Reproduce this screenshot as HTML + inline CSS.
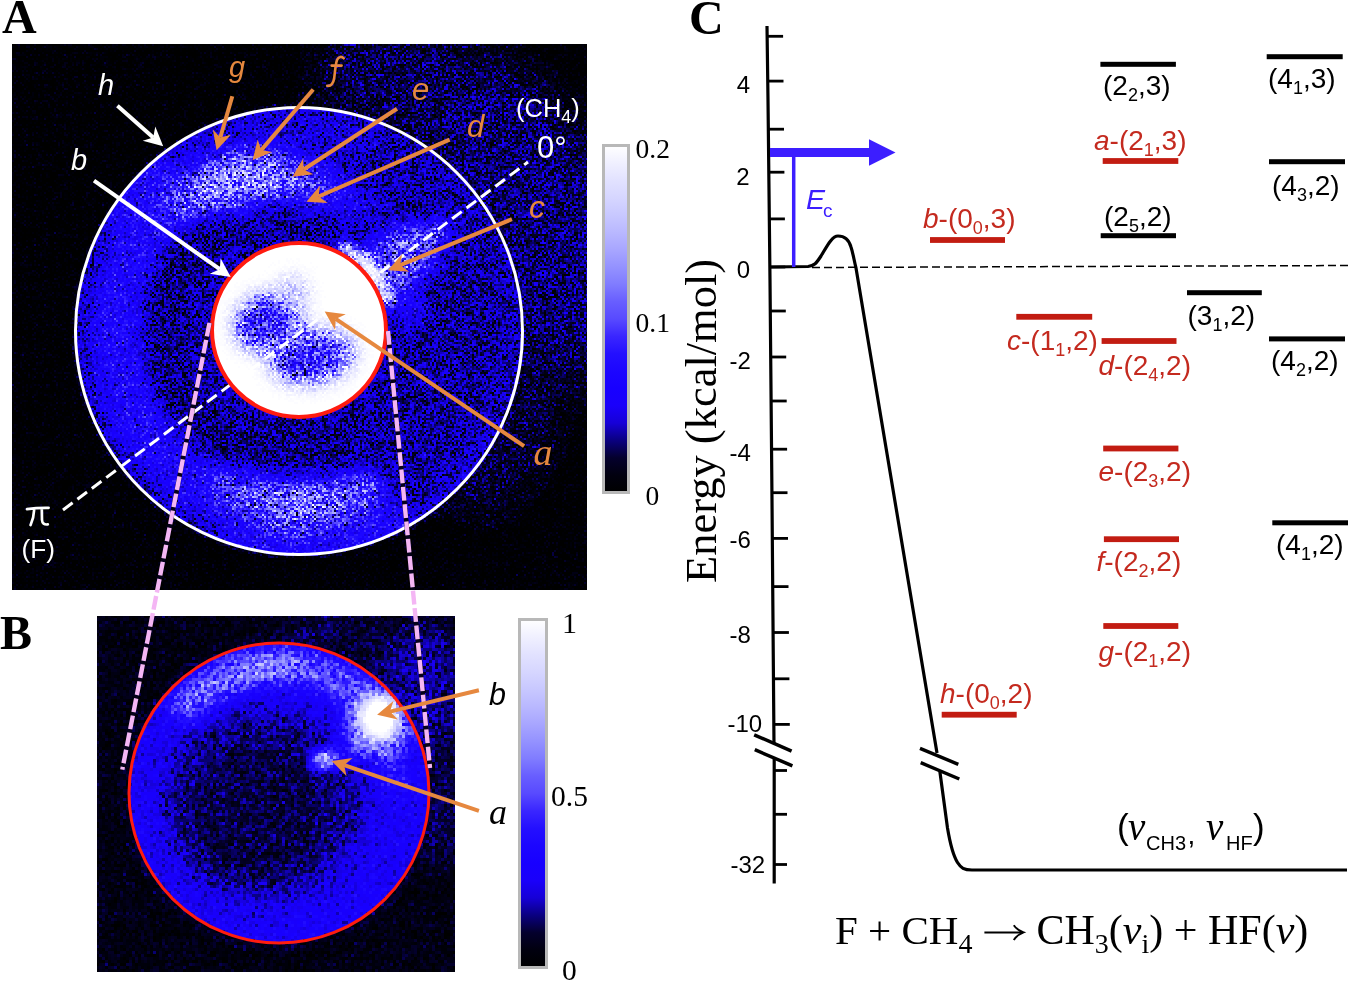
<!DOCTYPE html><html><head><meta charset="utf-8"><style>html,body{margin:0;padding:0;background:#fff;}svg{display:block;}</style></head><body><svg width="1350" height="981" viewBox="0 0 1350 981"><defs>
<clipPath id="clipA"><rect x="12" y="44" width="575" height="546"/></clipPath>
<clipPath id="diskA"><circle cx="299" cy="331" r="224"/></clipPath>
<clipPath id="redA"><circle cx="299" cy="330" r="87"/></clipPath>
<clipPath id="clipAB"><rect x="12" y="44" width="575" height="546"/><rect x="97" y="616" width="358" height="356"/></clipPath>
<clipPath id="clipB"><rect x="97" y="616" width="358" height="356"/></clipPath>
<clipPath id="diskB"><circle cx="279" cy="793" r="150"/></clipPath>
<filter id="b4" x="-50%" y="-50%" width="200%" height="200%"><feGaussianBlur stdDeviation="4"/></filter>
<filter id="b8" x="-50%" y="-50%" width="200%" height="200%"><feGaussianBlur stdDeviation="8"/></filter>
<filter id="b14" x="-50%" y="-50%" width="200%" height="200%"><feGaussianBlur stdDeviation="14"/></filter>
<filter id="b20" x="-50%" y="-50%" width="200%" height="200%"><feGaussianBlur stdDeviation="20"/></filter>
<linearGradient id="cbar" x1="0" y1="0" x2="0" y2="1"><stop offset="0.00" stop-color="rgb(255, 255, 255)"/><stop offset="0.05" stop-color="rgb(240, 240, 255)"/><stop offset="0.10" stop-color="rgb(226, 226, 255)"/><stop offset="0.15" stop-color="rgb(214, 214, 255)"/><stop offset="0.20" stop-color="rgb(200, 200, 255)"/><stop offset="0.25" stop-color="rgb(185, 184, 255)"/><stop offset="0.30" stop-color="rgb(168, 166, 255)"/><stop offset="0.35" stop-color="rgb(148, 146, 255)"/><stop offset="0.40" stop-color="rgb(128, 124, 255)"/><stop offset="0.45" stop-color="rgb(104, 94, 255)"/><stop offset="0.50" stop-color="rgb(88, 74, 255)"/><stop offset="0.55" stop-color="rgb(58, 38, 255)"/><stop offset="0.60" stop-color="rgb(36, 16, 255)"/><stop offset="0.65" stop-color="rgb(28, 6, 255)"/><stop offset="0.70" stop-color="rgb(24, 0, 255)"/><stop offset="0.75" stop-color="rgb(26, 0, 250)"/><stop offset="0.80" stop-color="rgb(22, 0, 215)"/><stop offset="0.85" stop-color="rgb(10, 0, 128)"/><stop offset="0.90" stop-color="rgb(4, 0, 45)"/><stop offset="0.95" stop-color="rgb(1, 0, 15)"/><stop offset="1.00" stop-color="rgb(0, 0, 0)"/></linearGradient>
</defs><rect width="1350" height="981" fill="#ffffff"/><filter id="cmA" x="12" y="44" width="575" height="546" filterUnits="userSpaceOnUse" color-interpolation-filters="sRGB"><feTurbulence type="fractalNoise" baseFrequency="0.9" numOctaves="1" seed="7" result="n"/><feColorMatrix in="n" type="matrix" values="1 0 0 0 0 1 0 0 0 0 1 0 0 0 0 0 0 0 0 1" result="ng"/><feComponentTransfer in="SourceGraphic" result="J"><feFuncR type="table" tableValues="0.200 0.270 0.330 0.400 0.430 0.400 0.360 0.450 0.700 0.850 0.950 1.000 1.000 1.000 0.950 0.850 0.700 0.500 0.300 0.150 0.000"/><feFuncG type="table" tableValues="0.200 0.270 0.330 0.400 0.430 0.400 0.360 0.450 0.700 0.850 0.950 1.000 1.000 1.000 0.950 0.850 0.700 0.500 0.300 0.150 0.000"/><feFuncB type="table" tableValues="0.200 0.270 0.330 0.400 0.430 0.400 0.360 0.450 0.700 0.850 0.950 1.000 1.000 1.000 0.950 0.850 0.700 0.500 0.300 0.150 0.000"/></feComponentTransfer><feComposite in="J" in2="ng" operator="arithmetic" k1="1" k2="-0.5" k3="0" k4="0.5" result="T"/><feComposite in="SourceGraphic" in2="T" operator="arithmetic" k1="0" k2="1" k3="2.0" k4="-1.0" result="s"/><feComponentTransfer in="s" result="c"><feFuncR type="table" tableValues="0.000 0.004 0.016 0.039 0.086 0.102 0.094 0.110 0.141 0.227 0.345 0.408 0.502 0.580 0.659 0.725 0.784 0.839 0.886 0.941 1.000"/><feFuncG type="table" tableValues="0.000 0.000 0.000 0.000 0.000 0.000 0.000 0.024 0.063 0.149 0.290 0.369 0.486 0.573 0.651 0.722 0.784 0.839 0.886 0.941 1.000"/><feFuncB type="table" tableValues="0.000 0.059 0.176 0.502 0.843 0.980 1.000 1.000 1.000 1.000 1.000 1.000 1.000 1.000 1.000 1.000 1.000 1.000 1.000 1.000 1.000"/><feFuncA type="linear" slope="0" intercept="1"/></feComponentTransfer><feFlood x="12" y="44" width="1" height="1" flood-color="#fff" result="dot"/><feComposite in="dot" in2="dot" operator="over" x="12" y="44" width="2" height="2" result="cell"/><feTile in="cell" result="grid"/><feComposite in="c" in2="grid" operator="in" result="samp"/><feConvolveMatrix in="samp" order="2" kernelMatrix="1 1 1 1" divisor="1" targetX="1" targetY="1" edgeMode="none"/></filter><g clip-path="url(#clipA)"><g filter="url(#cmA)"><rect x="12" y="44" width="575" height="546" fill="rgb(0,0,0)"/><g filter="url(#b20)"><circle cx="299" cy="331" r="228" fill="rgb(17,17,17)"/><ellipse cx="530.0" cy="235.0" rx="90" ry="160" transform="rotate(-15 530.0 235.0)" fill="rgb(36,36,36)"/><ellipse cx="440.0" cy="90.0" rx="130" ry="55" transform="rotate(15 440.0 90.0)" fill="rgb(28,28,28)"/><ellipse cx="500.0" cy="145.0" rx="70" ry="60" transform="rotate(0 500.0 145.0)" fill="rgb(34,34,34)"/><ellipse cx="516.5" cy="432.4" rx="100" ry="40" transform="rotate(115 516.5 432.4)" fill="rgb(20,20,20)"/></g><g clip-path="url(#diskA)"><g filter="url(#b8)"><circle cx="299" cy="331" r="230" fill="rgb(46,46,46)"/><path d="M151.2,141.9 A240,240 0 0 0 419.0,538.8 L379.0,469.6 A160,160 0 0 1 200.5,204.9 Z" fill="rgb(82,82,82)"/><path d="M278.1,91.9 A240,240 0 0 0 151.2,141.9 L191.3,193.1 A175,175 0 0 1 283.7,156.7 Z" fill="rgb(59,59,59)"/><path d="M91.2,211.0 A240,240 0 0 0 216.9,556.5 L228.2,525.5 A207,207 0 0 1 119.7,227.5 Z" fill="rgb(48,48,48)"/><path d="M419.0,538.8 A240,240 0 0 0 516.5,432.4 L466.7,409.2 A185,185 0 0 1 391.5,491.2 Z" fill="rgb(56,56,56)"/><path d="M381.1,105.5 A240,240 0 0 0 278.1,91.9 L282.9,146.7 A185,185 0 0 1 362.3,157.2 Z" fill="rgb(59,59,59)"/><path d="M220.0,194.2 A158,158 0 0 0 220.0,467.8 L241.5,430.6 A115,115 0 0 1 241.5,231.4 Z" fill="rgb(40,40,40)"/><path d="M373.6,224.5 A130,130 0 0 0 234.0,218.4 L253.0,251.3 A92,92 0 0 1 351.8,255.6 Z" fill="rgb(41,41,41)"/><path d="M228.0,454.0 A142,142 0 0 0 380.4,447.3 L353.5,408.8 A95,95 0 0 1 251.5,413.3 Z" fill="rgb(38,38,38)"/><path d="M241.5,231.4 A115,115 0 0 0 241.5,430.6 L255.0,407.2 A88,88 0 0 1 255.0,254.8 Z" fill="rgb(46,46,46)"/><path d="M383.5,512.3 A200,200 0 0 0 492.2,279.2 L390.8,306.4 A95,95 0 0 1 339.1,417.1 Z" fill="rgb(42,42,42)"/></g><g filter="url(#b14)"><ellipse cx="187.2" cy="197.7" rx="28" ry="20" transform="rotate(-40 187.2 197.7)" fill="rgb(128,128,128)"/><ellipse cx="228.8" cy="180.6" rx="34" ry="24" transform="rotate(-25 228.8 180.6)" fill="rgb(184,184,184)"/><ellipse cx="271.6" cy="175.4" rx="30" ry="22" transform="rotate(-10 271.6 175.4)" fill="rgb(168,168,168)"/><ellipse cx="311.9" cy="183.6" rx="26" ry="18" transform="rotate(5 311.9 183.6)" fill="rgb(128,128,128)"/><ellipse cx="346.2" cy="201.3" rx="24" ry="15" transform="rotate(20 346.2 201.3)" fill="rgb(97,97,97)"/><ellipse cx="299.0" cy="503.0" rx="52" ry="18" transform="rotate(-180 299.0 503.0)" fill="rgb(173,173,173)"/><ellipse cx="246.5" cy="492.7" rx="36" ry="16" transform="rotate(-162 246.5 492.7)" fill="rgb(133,133,133)"/><ellipse cx="351.5" cy="492.7" rx="36" ry="16" transform="rotate(-198 351.5 492.7)" fill="rgb(140,140,140)"/></g><g filter="url(#b8)"><ellipse cx="398.0" cy="258.0" rx="44" ry="30" transform="rotate(-35 398.0 258.0)" fill="rgb(117,117,117)"/><ellipse cx="432.0" cy="236.0" rx="20" ry="12" transform="rotate(-35 432.0 236.0)" fill="rgb(128,128,128)"/><ellipse cx="408.0" cy="305.0" rx="16" ry="22" transform="rotate(0 408.0 305.0)" fill="rgb(82,82,82)"/></g><g filter="url(#b4)"><ellipse cx="368.1" cy="267.8" rx="30" ry="8" transform="rotate(48 368.1 267.8)" fill="rgb(255,255,255)"/><ellipse cx="384.0" cy="292.2" rx="16" ry="7" transform="rotate(66 384.0 292.2)" fill="rgb(217,217,217)"/><ellipse cx="348.8" cy="250.3" rx="14" ry="7" transform="rotate(32 348.8 250.3)" fill="rgb(204,204,204)"/></g></g><circle cx="299" cy="330" r="87" fill="rgb(255,255,255)"/><g clip-path="url(#redA)"><g filter="url(#b8)"><ellipse cx="268.0" cy="322.0" rx="36" ry="30" transform="rotate(-20 268.0 322.0)" fill="rgb(158,158,158)"/><ellipse cx="311.0" cy="356.0" rx="44" ry="28" transform="rotate(-8 311.0 356.0)" fill="rgb(158,158,158)"/><ellipse cx="292.0" cy="296.0" rx="16" ry="20" transform="rotate(0 292.0 296.0)" fill="rgb(209,209,209)"/></g><g filter="url(#b4)"><ellipse cx="266.0" cy="322.0" rx="24" ry="19" transform="rotate(-20 266.0 322.0)" fill="rgb(107,107,107)"/><ellipse cx="308.0" cy="358.0" rx="30" ry="17" transform="rotate(-8 308.0 358.0)" fill="rgb(107,107,107)"/></g></g></g></g><filter id="cmB" x="97" y="616" width="358" height="356" filterUnits="userSpaceOnUse" color-interpolation-filters="sRGB"><feTurbulence type="fractalNoise" baseFrequency="0.9" numOctaves="1" seed="11" result="n"/><feColorMatrix in="n" type="matrix" values="1 0 0 0 0 1 0 0 0 0 1 0 0 0 0 0 0 0 0 1" result="ng"/><feComponentTransfer in="SourceGraphic" result="J"><feFuncR type="table" tableValues="0.200 0.270 0.330 0.400 0.430 0.420 0.420 0.470 0.550 0.650 0.750 0.830 0.900 0.900 0.900 0.750 0.600 0.450 0.300 0.150 0.000"/><feFuncG type="table" tableValues="0.200 0.270 0.330 0.400 0.430 0.420 0.420 0.470 0.550 0.650 0.750 0.830 0.900 0.900 0.900 0.750 0.600 0.450 0.300 0.150 0.000"/><feFuncB type="table" tableValues="0.200 0.270 0.330 0.400 0.430 0.420 0.420 0.470 0.550 0.650 0.750 0.830 0.900 0.900 0.900 0.750 0.600 0.450 0.300 0.150 0.000"/></feComponentTransfer><feComposite in="J" in2="ng" operator="arithmetic" k1="1" k2="-0.5" k3="0" k4="0.5" result="T"/><feComposite in="SourceGraphic" in2="T" operator="arithmetic" k1="0" k2="1" k3="1.1" k4="-0.55" result="s"/><feComponentTransfer in="s" result="c"><feFuncR type="table" tableValues="0.000 0.004 0.016 0.039 0.086 0.102 0.094 0.110 0.141 0.227 0.345 0.408 0.502 0.580 0.659 0.725 0.784 0.839 0.886 0.941 1.000"/><feFuncG type="table" tableValues="0.000 0.000 0.000 0.000 0.000 0.000 0.000 0.024 0.063 0.149 0.290 0.369 0.486 0.573 0.651 0.722 0.784 0.839 0.886 0.941 1.000"/><feFuncB type="table" tableValues="0.000 0.059 0.176 0.502 0.843 0.980 1.000 1.000 1.000 1.000 1.000 1.000 1.000 1.000 1.000 1.000 1.000 1.000 1.000 1.000 1.000"/><feFuncA type="linear" slope="0" intercept="1"/></feComponentTransfer><feFlood x="97" y="616" width="1" height="1" flood-color="#fff" result="dot"/><feComposite in="dot" in2="dot" operator="over" x="97" y="616" width="3" height="3" result="cell"/><feTile in="cell" result="grid"/><feComposite in="c" in2="grid" operator="in" result="samp"/><feConvolveMatrix in="samp" order="3" kernelMatrix="1 1 1 1 1 1 1 1 1" divisor="1" targetX="1" targetY="1" edgeMode="none"/></filter><g clip-path="url(#clipB)"><g filter="url(#cmB)"><rect x="97" y="616" width="358" height="356" fill="rgb(13,13,13)"/><g filter="url(#b14)"><circle cx="279" cy="793" r="152" fill="rgb(20,20,20)"/><ellipse cx="420.0" cy="690.0" rx="45" ry="70" transform="rotate(0 420.0 690.0)" fill="rgb(41,41,41)"/><ellipse cx="440.0" cy="800.0" rx="25" ry="70" transform="rotate(0 440.0 800.0)" fill="rgb(28,28,28)"/><ellipse cx="330.0" cy="630.0" rx="60" ry="20" transform="rotate(0 330.0 630.0)" fill="rgb(26,26,26)"/></g><g clip-path="url(#diskB)"><circle cx="279" cy="793" r="150" fill="rgb(71,71,71)"/><g filter="url(#b14)"><ellipse cx="262.0" cy="805.0" rx="100" ry="94" transform="rotate(0 262.0 805.0)" fill="rgb(36,36,36)"/><ellipse cx="255.0" cy="810.0" rx="62" ry="62" transform="rotate(0 255.0 810.0)" fill="rgb(26,26,26)"/></g><g filter="url(#b8)"><path d="M391.7,705.0 A143,143 0 0 0 164.8,706.9 L191.2,726.8 A110,110 0 0 1 365.7,725.3 Z" fill="rgb(128,128,128)"/><ellipse cx="257.1" cy="668.9" rx="55" ry="15" transform="rotate(-10 257.1 668.9)" fill="rgb(158,158,158)"/><ellipse cx="206.7" cy="689.8" rx="30" ry="14" transform="rotate(-35 206.7 689.8)" fill="rgb(148,148,148)"/><ellipse cx="395.0" cy="768.0" rx="14" ry="34" transform="rotate(-10 395.0 768.0)" fill="rgb(97,97,97)"/><ellipse cx="348.0" cy="750.0" rx="24" ry="10" transform="rotate(-20 348.0 750.0)" fill="rgb(102,102,102)"/><ellipse cx="378.0" cy="722.0" rx="34" ry="36" transform="rotate(0 378.0 722.0)" fill="rgb(158,158,158)"/></g><g filter="url(#b4)"><ellipse cx="323.0" cy="760.0" rx="13" ry="10" transform="rotate(-20 323.0 760.0)" fill="rgb(173,173,173)"/><ellipse cx="379.0" cy="718.0" rx="20" ry="23" transform="rotate(0 379.0 718.0)" fill="rgb(255,255,255)"/></g><ellipse cx="380.0" cy="717.0" rx="14" ry="16" transform="rotate(0 380.0 717.0)" fill="rgb(255,255,255)"/></g></g></g><circle cx="299" cy="331" r="223.5" fill="none" stroke="#ffffff" stroke-width="3"/><line x1="63" y1="510" x2="528" y2="162" stroke="#ffffff" stroke-width="3" stroke-dasharray="12,6"/><circle cx="299" cy="330" r="87" fill="none" stroke="#ff1c10" stroke-width="4"/><circle cx="279" cy="793" r="150" fill="none" stroke="#ff1c10" stroke-width="3"/><g clip-path="url(#clipAB)"><line x1="209.5" y1="322.8" x2="122.3" y2="769.6" stroke="#06031a" stroke-width="4.6"/><line x1="388" y1="331" x2="430" y2="768" stroke="#06031a" stroke-width="4.6"/></g><line x1="209.5" y1="322.8" x2="122.3" y2="769.6" stroke="#f4b6f4" stroke-width="4.4" stroke-dasharray="13.8,3.6"/><line x1="388" y1="331" x2="430" y2="768" stroke="#f4b6f4" stroke-width="4.4" stroke-dasharray="13.8,3.6"/><line x1="117.4" y1="105.7" x2="153.2" y2="137.5" stroke="#ffffff" stroke-width="4"/><polygon points="163.2,146.3 142.7,140.8 153.2,137.5 155.3,126.6" fill="#ffffff"/><line x1="94.0" y1="180.7" x2="219.8" y2="269.2" stroke="#ffffff" stroke-width="4"/><polygon points="230.7,276.9 209.7,273.7 219.8,269.2 220.6,258.2" fill="#ffffff"/><line x1="232.3" y1="96.3" x2="220.3" y2="137.5" stroke="#e6883f" stroke-width="4"/><polygon points="216.6,150.3 212.8,129.4 220.3,137.5 231.0,134.7" fill="#e6883f"/><line x1="313.2" y1="89.5" x2="261.2" y2="150.1" stroke="#e6883f" stroke-width="4"/><polygon points="252.5,160.2 257.7,139.6 261.2,150.1 272.1,152.0" fill="#e6883f"/><line x1="397.0" y1="108.7" x2="303.6" y2="169.5" stroke="#e6883f" stroke-width="4"/><polygon points="292.4,176.7 303.2,158.4 303.6,169.5 313.5,174.3" fill="#e6883f"/><line x1="449.6" y1="139.6" x2="318.6" y2="196.5" stroke="#e6883f" stroke-width="4"/><polygon points="306.4,201.8 320.0,185.5 318.6,196.5 327.6,202.9" fill="#e6883f"/><line x1="511.9" y1="219.2" x2="400.3" y2="265.1" stroke="#e6883f" stroke-width="4"/><polygon points="388.0,270.2 402.0,254.2 400.3,265.1 409.2,271.8" fill="#e6883f"/><line x1="524.1" y1="446.1" x2="335.7" y2="318.9" stroke="#e6883f" stroke-width="4"/><polygon points="324.7,311.5 345.8,314.3 335.7,318.9 335.1,330.0" fill="#e6883f"/><text x="98" y="95" fill="#ffffff" font-size="29" font-family="Liberation Sans, sans-serif" font-style="italic">h</text><text x="71" y="170" fill="#ffffff" font-size="29" font-family="Liberation Sans, sans-serif" font-style="italic">b</text><text x="229" y="76.5" fill="#e6883f" font-size="29" font-family="Liberation Sans, sans-serif" font-style="italic">g</text><path d="M343.7,58.3 C342,56.2 338.5,56.2 337,60 C335.6,64 335,72 334.2,78 C333.5,83 331,86.6 327.2,85.8 M331.6,65.6 L341.6,65.6" fill="none" stroke="#e6883f" stroke-width="2.6" stroke-linecap="round"/><text x="412" y="100" fill="#e6883f" font-size="31" font-family="Liberation Sans, sans-serif" font-style="italic">e</text><text x="467" y="136.5" fill="#e6883f" font-size="31" font-family="Liberation Sans, sans-serif" font-style="italic">d</text><text x="529" y="218" fill="#e6883f" font-size="32" font-family="Liberation Sans, sans-serif" font-style="italic">c</text><text x="533.5" y="464.8" fill="#e6883f" font-size="38" font-family="Liberation Serif, serif" font-style="italic">a</text><text x="516" y="117" fill="#ffffff" font-size="25.5" font-family="Liberation Sans, sans-serif" >(CH<tspan font-size="18" dy="6">4</tspan><tspan dy="-6">)</tspan></text><text x="537" y="157.5" fill="#ffffff" font-size="31" font-family="Liberation Sans, sans-serif" >0°</text><path d="M27,509.2 Q37,507.6 48.6,507.8 M34.2,509.5 Q33.8,518 30.6,525 M41.8,509.5 L42,520 Q42.4,525.2 47.8,524.4" fill="none" stroke="#fff" stroke-width="2.7" stroke-linecap="round"/><text x="21.5" y="557.5" fill="#ffffff" font-size="26.3" font-family="Liberation Sans, sans-serif" >(F)</text><rect x="603.5" y="145.5" width="25" height="347" fill="url(#cbar)" stroke="#b8b8b8" stroke-width="3"/><text x="635.5" y="157.5" fill="#000" font-size="27.5" font-family="Liberation Serif, serif" >0.2</text><text x="635.5" y="331.5" fill="#000" font-size="27.5" font-family="Liberation Serif, serif" >0.1</text><text x="645.5" y="504.5" fill="#000" font-size="27.5" font-family="Liberation Serif, serif" >0</text><line x1="478.9" y1="690.3" x2="390.0" y2="711.6" stroke="#e6883f" stroke-width="4"/><polygon points="377.1,714.7 393.4,701.0 390.0,711.6 397.8,719.5" fill="#e6883f"/><line x1="478.9" y1="810.8" x2="344.2" y2="765.2" stroke="#e6883f" stroke-width="4"/><polygon points="331.6,760.9 352.6,758.0 344.2,765.2 346.5,776.0" fill="#e6883f"/><text x="489" y="704.5" fill="#000" font-size="30.5" font-family="Liberation Sans, sans-serif" font-style="italic">b</text><text x="489" y="824.2" fill="#000" font-size="36" font-family="Liberation Serif, serif" font-style="italic">a</text><rect x="519.5" y="619.5" width="27" height="348" fill="url(#cbar)" stroke="#b8b8b8" stroke-width="3"/><text x="562" y="632.8" fill="#000" font-size="30" font-family="Liberation Serif, serif" >1</text><text x="551" y="805.7" fill="#000" font-size="29.5" font-family="Liberation Serif, serif" >0.5</text><text x="562" y="979.6" fill="#000" font-size="29.5" font-family="Liberation Serif, serif" >0</text><text x="2" y="33" fill="#000" font-size="48" font-family="Liberation Serif, serif" font-weight="bold">A</text><text x="0" y="649" fill="#000" font-size="48" font-family="Liberation Serif, serif" font-weight="bold">B</text><text x="689" y="34" fill="#000" font-size="48" font-family="Liberation Serif, serif" font-weight="bold">C</text><polyline points="767,26 768,100 770,280 772,500 774,744" fill="none" stroke="#000" stroke-width="3.2"/><line x1="774.2" y1="758" x2="774.2" y2="883.5" stroke="#000" stroke-width="3.2"/><line x1="767.1" y1="36.3" x2="783.1" y2="36.3" stroke="#000" stroke-width="2.8"/><line x1="767.5" y1="81.1" x2="783.5" y2="81.1" stroke="#000" stroke-width="2.8"/><line x1="768.0" y1="129.2" x2="784.0" y2="129.2" stroke="#000" stroke-width="2.8"/><line x1="768.4" y1="172.2" x2="784.4" y2="172.2" stroke="#000" stroke-width="2.8"/><line x1="768.9" y1="218.9" x2="784.9" y2="218.9" stroke="#000" stroke-width="2.8"/><line x1="769.3" y1="267" x2="785.3" y2="267" stroke="#000" stroke-width="2.8"/><line x1="769.8" y1="311" x2="785.8" y2="311" stroke="#000" stroke-width="2.8"/><line x1="770.2" y1="357" x2="786.2" y2="357" stroke="#000" stroke-width="2.8"/><line x1="770.7" y1="401" x2="786.7" y2="401" stroke="#000" stroke-width="2.8"/><line x1="771.1" y1="449.2" x2="787.1" y2="449.2" stroke="#000" stroke-width="2.8"/><line x1="771.5" y1="492.7" x2="787.5" y2="492.7" stroke="#000" stroke-width="2.8"/><line x1="772.0" y1="538.4" x2="788.0" y2="538.4" stroke="#000" stroke-width="2.8"/><line x1="772.5" y1="586.6" x2="788.5" y2="586.6" stroke="#000" stroke-width="2.8"/><line x1="772.9" y1="632.5" x2="788.9" y2="632.5" stroke="#000" stroke-width="2.8"/><line x1="773.4" y1="678.8" x2="789.4" y2="678.8" stroke="#000" stroke-width="2.8"/><line x1="773.8" y1="724.4" x2="789.8" y2="724.4" stroke="#000" stroke-width="2.8"/><line x1="774" y1="770.5" x2="787" y2="770.5" stroke="#000" stroke-width="2.8"/><line x1="774" y1="814.3" x2="787" y2="814.3" stroke="#000" stroke-width="2.8"/><line x1="774" y1="864.5" x2="787" y2="864.5" stroke="#000" stroke-width="2.8"/><line x1="754.2" y1="734.8" x2="791.6" y2="751.1" stroke="#000" stroke-width="3.5"/><line x1="754.8" y1="749.7" x2="792.4" y2="765.8" stroke="#000" stroke-width="3.5"/><line x1="920" y1="748.3" x2="958.3" y2="764.3" stroke="#000" stroke-width="3.5"/><line x1="920.7" y1="762.7" x2="959.3" y2="779" stroke="#000" stroke-width="3.5"/><text x="750" y="93" text-anchor="end" font-size="24" font-family="Liberation Sans, sans-serif" fill="#000">4</text><text x="749.5" y="185" text-anchor="end" font-size="24" font-family="Liberation Sans, sans-serif" fill="#000">2</text><text x="750" y="278.3" text-anchor="end" font-size="24" font-family="Liberation Sans, sans-serif" fill="#000">0</text><text x="729.5" y="369" text-anchor="start" font-size="24" font-family="Liberation Sans, sans-serif" fill="#000">-2</text><text x="729.5" y="461.3" text-anchor="start" font-size="24" font-family="Liberation Sans, sans-serif" fill="#000">-4</text><text x="729.5" y="547.8" text-anchor="start" font-size="24" font-family="Liberation Sans, sans-serif" fill="#000">-6</text><text x="729.5" y="643" text-anchor="start" font-size="24" font-family="Liberation Sans, sans-serif" fill="#000">-8</text><text x="727.5" y="731.5" text-anchor="start" font-size="24" font-family="Liberation Sans, sans-serif" fill="#000">-10</text><text x="730.5" y="873" text-anchor="start" font-size="24" font-family="Liberation Sans, sans-serif" fill="#000">-32</text><text transform="translate(715.5,583) rotate(-90)" font-size="44.5" font-family="Liberation Serif, serif" fill="#000">Energy (kcal/mol)</text><line x1="812" y1="267.5" x2="1350" y2="265.5" stroke="#000" stroke-width="1.5" stroke-dasharray="8,4"/><path d="M770,267 L808,266.5 C815,266 817,262 821,256 C827,246 832,236 838,236 C845,236 849,240 851,247 C853,253 854,260 856,268 L937,753" fill="none" stroke="#000" stroke-width="3.2"/><path d="M939.8,771 L947.5,828 C950,843 953.5,856 957.5,862.5 C961,868 964,870 972,870 L1347,870" fill="none" stroke="#000" stroke-width="3.2"/><rect x="770" y="148" width="100" height="9" fill="#3c1eff"/><polygon points="869,139.2 895.5,152.5 869,165.8" fill="#3c1eff"/><line x1="793.7" y1="156" x2="793.7" y2="267" stroke="#3c1eff" stroke-width="3.5"/><text x="806" y="209" font-size="28.5" font-style="italic" font-family="Liberation Sans, sans-serif" fill="#3c1eff">E<tspan font-style="normal" font-size="19" dx="-2" dy="8">c</tspan></text><rect x="1100.4" y="61.8" width="75.5" height="5.0" fill="#000"/><text x="1103" y="94.8" font-size="28" font-family="Liberation Sans, sans-serif" fill="#000">(2<tspan font-size="18" dy="6">2</tspan><tspan dy="-6">,3)</tspan></text><rect x="1266.7" y="54.2" width="76.0" height="5.0" fill="#000"/><text x="1268" y="88" font-size="28" font-family="Liberation Sans, sans-serif" fill="#000">(4<tspan font-size="18" dy="6">1</tspan><tspan dy="-6">,3)</tspan></text><rect x="1102.7" y="158.1" width="75.6" height="5.8" fill="#c21c12"/><text x="1094" y="150" font-size="28" font-family="Liberation Sans, sans-serif" fill="#c42a1f"><tspan font-style="italic">a</tspan>-(2<tspan font-size="18" dy="6">1</tspan><tspan dy="-6">,3)</tspan></text><rect x="1269" y="159.2" width="76.0" height="5.0" fill="#000"/><text x="1272" y="194.5" font-size="28" font-family="Liberation Sans, sans-serif" fill="#000">(4<tspan font-size="18" dy="6">3</tspan><tspan dy="-6">,2)</tspan></text><rect x="1100.7" y="233.2" width="75.3" height="5.0" fill="#000"/><text x="1104" y="226" font-size="28" font-family="Liberation Sans, sans-serif" fill="#000">(2<tspan font-size="18" dy="6">5</tspan><tspan dy="-6">,2)</tspan></text><rect x="930" y="237.1" width="75.0" height="5.8" fill="#c21c12"/><text x="923" y="228" font-size="28" font-family="Liberation Sans, sans-serif" fill="#c42a1f"><tspan font-style="italic">b</tspan>-(0<tspan font-size="18" dy="6">0</tspan><tspan dy="-6">,3)</tspan></text><rect x="1187" y="290.2" width="74.8" height="5.0" fill="#000"/><text x="1187.5" y="324.5" font-size="28" font-family="Liberation Sans, sans-serif" fill="#000">(3<tspan font-size="18" dy="6">1</tspan><tspan dy="-6">,2)</tspan></text><rect x="1016.3" y="313.9" width="75.9" height="5.8" fill="#c21c12"/><text x="1007" y="350" font-size="28" font-family="Liberation Sans, sans-serif" fill="#c42a1f"><tspan font-style="italic">c</tspan>-(1<tspan font-size="18" dy="6">1</tspan><tspan dy="-6">,2)</tspan></text><rect x="1101.6" y="338.1" width="74.9" height="5.8" fill="#c21c12"/><text x="1098.5" y="375" font-size="28" font-family="Liberation Sans, sans-serif" fill="#c42a1f"><tspan font-style="italic">d</tspan>-(2<tspan font-size="18" dy="6">4</tspan><tspan dy="-6">,2)</tspan></text><rect x="1269" y="336.4" width="76.0" height="5.0" fill="#000"/><text x="1271" y="370" font-size="28" font-family="Liberation Sans, sans-serif" fill="#000">(4<tspan font-size="18" dy="6">2</tspan><tspan dy="-6">,2)</tspan></text><rect x="1103.2" y="445.6" width="75.2" height="5.8" fill="#c21c12"/><text x="1098.5" y="481" font-size="28" font-family="Liberation Sans, sans-serif" fill="#c42a1f"><tspan font-style="italic">e</tspan>-(2<tspan font-size="18" dy="6">3</tspan><tspan dy="-6">,2)</tspan></text><rect x="1103.9" y="536.3" width="75.1" height="5.8" fill="#c21c12"/><text x="1096.5" y="571" font-size="28" font-family="Liberation Sans, sans-serif" fill="#c42a1f"><tspan font-style="italic">f</tspan>-(2<tspan font-size="18" dy="6">2</tspan><tspan dy="-6">,2)</tspan></text><rect x="1272.3" y="520.3" width="75.7" height="5.0" fill="#000"/><text x="1276" y="553.5" font-size="28" font-family="Liberation Sans, sans-serif" fill="#000">(4<tspan font-size="18" dy="6">1</tspan><tspan dy="-6">,2)</tspan></text><rect x="1103.3" y="623.1" width="75.0" height="5.8" fill="#c21c12"/><text x="1098.5" y="661" font-size="28" font-family="Liberation Sans, sans-serif" fill="#c42a1f"><tspan font-style="italic">g</tspan>-(2<tspan font-size="18" dy="6">1</tspan><tspan dy="-6">,2)</tspan></text><rect x="941.7" y="711.8" width="75.0" height="5.8" fill="#c21c12"/><text x="940" y="703" font-size="28" font-family="Liberation Sans, sans-serif" fill="#c42a1f"><tspan font-style="italic">h</tspan>-(0<tspan font-size="18" dy="6">0</tspan><tspan dy="-6">,2)</tspan></text><text x="1117" y="838.5" font-size="35" font-family="Liberation Sans, sans-serif" fill="#000">(</text><text x="1128" y="840" font-size="39" font-style="italic" font-family="Liberation Serif, serif" fill="#000">v</text><text x="1146" y="850" font-size="20" font-family="Liberation Sans, sans-serif" fill="#000">CH3</text><text x="1187.5" y="844" font-size="28" font-family="Liberation Sans, sans-serif" fill="#000">,</text><text x="1206" y="840" font-size="39" font-style="italic" font-family="Liberation Serif, serif" fill="#000">v</text><text x="1226" y="850" font-size="20" font-family="Liberation Sans, sans-serif" fill="#000">HF</text><text x="1253" y="838.5" font-size="35" font-family="Liberation Sans, sans-serif" fill="#000">)</text><text x="835" y="943.7" font-size="41" font-family="Liberation Serif, serif" fill="#000">F + CH<tspan font-size="28" dy="9">4</tspan></text><line x1="984.4" y1="932.4" x2="1022.5" y2="932.4" stroke="#000" stroke-width="2"/><path d="M1013.8,925.3 Q1017,930 1023.5,932.4 Q1017,935 1013.8,940" fill="none" stroke="#000" stroke-width="2"/><text x="1036.5" y="943.7" font-size="42" font-family="Liberation Serif, serif" fill="#000">CH<tspan font-size="28" dy="9">3</tspan><tspan dy="-9">(</tspan><tspan font-style="italic">v</tspan><tspan font-size="28" dy="9">i</tspan><tspan dy="-9">) + HF(</tspan><tspan font-style="italic">v</tspan>)</text></svg></body></html>
